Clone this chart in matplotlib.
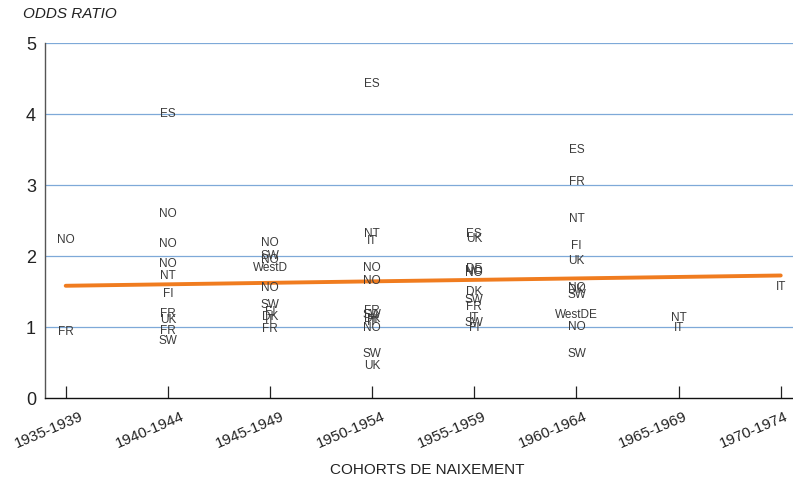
"""
Odds ratio by birth cohort, with country labels and a linear trend.
"""
import matplotlib
matplotlib.use("Agg")
import matplotlib.pyplot as plt
import matplotlib.transforms as mtransforms

COHORTS = ["1935-1939", "1940-1944", "1945-1949", "1950-1954",
           "1955-1959", "1960-1964", "1965-1969", "1970-1974"]

# country labels and odds ratios, one pair of lists per cohort
C_1935 = ["NO", "FR"]
OR_1935 = [2.23, 0.94]
C_1940 = ["ES", "NO", "NO", "NO", "NT", "FI", "FR", "UK", "FR", "SW"]
OR_1940 = [4.01, 2.59, 2.17, 1.89, 1.72, 1.47, 1.19, 1.10, 0.95, 0.80]
C_1945 = ["NO", "SW", "NO", "WestD", "NO", "SW", "FI", "DK", "IT", "FR"]
OR_1945 = [2.19, 2.00, 1.95, 1.84, 1.56, 1.32, 1.22, 1.15, 1.10, 0.98]
C_1950 = ["ES", "NT", "IT", "NO", "NO", "FR", "SW", "DK", "FI", "IT", "NO", "SW", "UK"]
OR_1950 = [4.43, 2.32, 2.22, 1.84, 1.65, 1.23, 1.17, 1.12, 1.10, 1.08, 0.99, 0.62, 0.46]
C_1955 = ["ES", "UK", "DE", "NO", "NO", "DK", "SW", "FR", "IT", "SW", "FI"]
OR_1955 = [2.32, 2.25, 1.82, 1.80, 1.77, 1.50, 1.39, 1.28, 1.13, 1.06, 0.99]
C_1960 = ["ES", "FR", "NT", "FI", "UK", "NO", "DK", "SW", "WestDE", "NO", "SW"]
OR_1960 = [3.50, 3.04, 2.52, 2.14, 1.94, 1.55, 1.52, 1.45, 1.18, 1.01, 0.62]
C_1965 = ["NT", "IT"]
OR_1965 = [1.13, 0.99]
C_1970 = ["IT"]
OR_1970 = [1.57]

# fitted trend at first and last cohort
TREND = [1.585, 1.73]

plt.rcParams.update({"font.family": ["Liberation Sans", "DejaVu Sans"]})


def main():
    fig = plt.figure(figsize=(7.93, 4.82), dpi=100)
    ax = fig.add_axes([0.0567, 0.1737, 0.9433, 0.7363])

    groups = [(C_1935, OR_1935), (C_1940, OR_1940), (C_1945, OR_1945),
              (C_1950, OR_1950), (C_1955, OR_1955), (C_1960, OR_1960),
              (C_1965, OR_1965), (C_1970, OR_1970)]
    for i, (labels, vals) in enumerate(groups):
        for lab, v in zip(labels, vals):
            ax.text(i, v, lab, ha="center", va="center", fontsize=8.5,
                    color="#3a3a3a", zorder=3)

    ax.plot([0, len(COHORTS) - 1], TREND, color="#f07c1f", lw=2.8,
            solid_capstyle="round", zorder=2)

    ax.set_xlim(-0.203, 7.12)
    ax.set_ylim(0, 5)
    ax.set_yticks([0, 1, 2, 3, 4, 5])
    ax.set_xticks(range(len(COHORTS)))
    ax.set_xticklabels(COHORTS, rotation=23, ha="right", va="top",
                       rotation_mode="anchor", fontsize=11, color="#222222")

    ax.tick_params(axis="x", direction="in", length=9, width=0.9,
                   color="#222222", pad=8)
    ax.tick_params(axis="y", length=0, pad=6.5, labelsize=13, labelcolor="#222222")

    # labels drift slightly left of their ticks going right, as in the original
    for i, lbl in enumerate(ax.get_xticklabels()):
        dx = (14 - 1.4 * i) / 100.0
        offset = mtransforms.ScaledTranslation(dx, 0, fig.dpi_scale_trans)
        lbl.set_transform(lbl.get_transform() + offset)

    for v in [1, 2, 3, 4, 5]:
        ax.axhline(v, color="#7ea9d8", lw=0.9, zorder=1)

    for s in ("top", "right"):
        ax.spines[s].set_visible(False)
    ax.spines["left"].set_color("#555555")
    ax.spines["left"].set_linewidth(1.0)
    ax.spines["bottom"].set_color("#111111")
    ax.spines["bottom"].set_linewidth(1.0)

    fig.text(0.029, 0.971, "ODDS RATIO", fontsize=11, style="italic",
             color="#222222", ha="left", va="center")
    fig.text(0.539, 0.025, "COHORTS DE NAIXEMENT", fontsize=11,
             color="#222222", ha="center", va="center")

    fig.savefig("out.png", dpi=100)


if __name__ == "__main__":
    main()
